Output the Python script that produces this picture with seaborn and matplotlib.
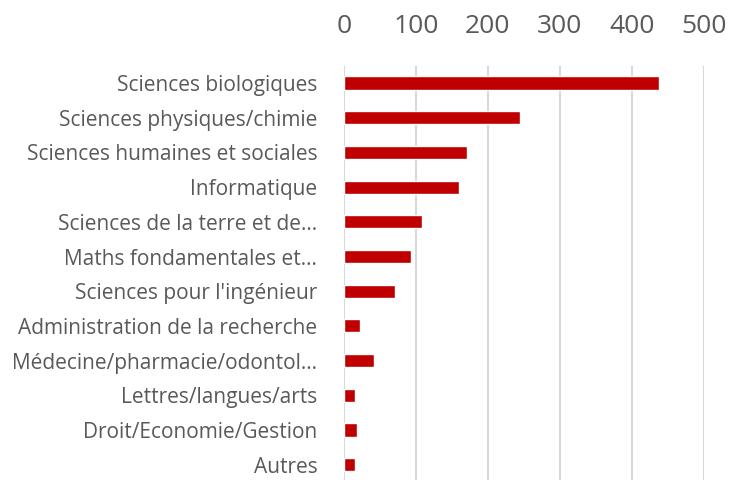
import matplotlib
matplotlib.use("Agg")
import matplotlib.pyplot as plt
import seaborn as sns
import pandas as pd

categories = [
    "Sciences biologiques",
    "Sciences physiques/chimie",
    "Sciences humaines et sociales",
    "Informatique",
    "Sciences de la terre et de…",
    "Maths fondamentales et…",
    "Sciences pour l'ingénieur",
    "Administration de la recherche",
    "Médecine/pharmacie/odontol…",
    "Lettres/langues/arts",
    "Droit/Economie/Gestion",
    "Autres",
]
values = [437, 245, 171, 160, 108, 93, 71, 23, 42, 16, 19, 16]
xticks = [0, 100, 200, 300, 400, 500]

df = pd.DataFrame({"cat": categories, "val": values})

sns.set_theme(style="white")
plt.rcParams["font.family"] = ["Open Sans", "DejaVu Sans"]

fig = plt.figure(figsize=(7.29, 4.8), dpi=100)
ax = fig.add_axes([343.7 / 729, -2 / 480, 360.3 / 729, 416.3 / 480])

sns.barplot(data=df, x="val", y="cat", color="#c00000", saturation=1,
            width=0.38, ax=ax, orient="h")

ax.set_xlim(0, 500)
ax.set_ylim(11.5, -0.5)
ax.set_xticks(xticks)
ax.xaxis.tick_top()
ax.tick_params(axis="x", labelsize=19, colors="#595959", pad=19, length=0)
ax.tick_params(axis="y", labelsize=15, colors="#595959", pad=19, length=0)
ax.grid(axis="x", color="#d9d9d9", linewidth=1.5)
ax.set_axisbelow(True)
ax.set_xlabel("")
ax.set_ylabel("")
for s in ax.spines.values():
    s.set_visible(False)

fig.savefig("out.png", dpi=100)
